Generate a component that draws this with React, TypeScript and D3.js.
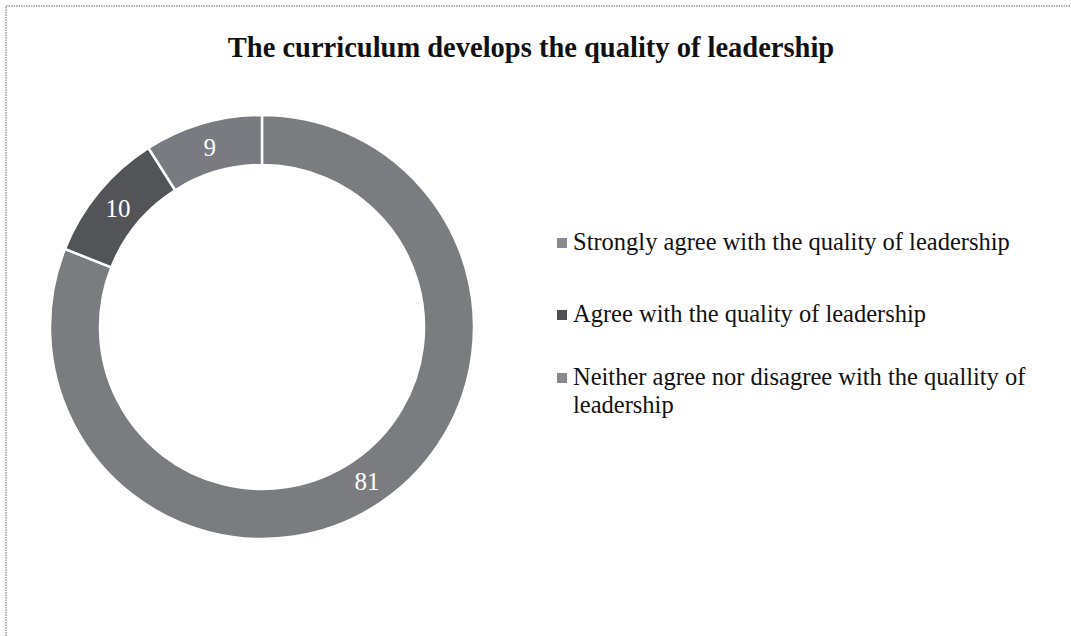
import React from 'react';
import * as d3 from 'd3';

const title = 'The curriculum develops the quality of leadership';
const categories = [
  'Strongly agree with the quality of leadership',
  'Agree with the quality of leadership',
  'Neither agree nor disagree with the quality of leadership',
];
const legendLines = [
  ['Strongly agree with the quality of leadership'],
  ['Agree with the quality of leadership'],
  ['Neither agree nor disagree with the quallity of', 'leadership'],
];
const values = [81, 10, 9];
const colors = ['#7b7c80', '#535458', '#7a7b80'];
const markerColors = ['#8a8a8e', '#4f4f53', '#8a8a8e'];

const W = 1071;
const H = 636;
const cx = 262;
const cy = 327;
const outerR = 212;
const innerR = 162;

export default function App() {
  const pie = d3.pie<number>().sort(null).value(d => d);
  const arcs = pie(values);
  const arc = d3.arc<d3.PieArcDatum<number>>().innerRadius(innerR).outerRadius(outerR);

  // baselines of the first line of each legend entry
  const legendY = d3.scaleOrdinal<number, number>().domain([0, 1, 2]).range([250, 322, 385]);

  return (
    <div style={{ position: 'absolute', left: 0, top: 0 }}>
      <svg width={W} height={H} style={{ display: 'block', background: '#fff' }}>
        <rect x={6} y={6} width={1100} height={700} fill="none" stroke="#999" strokeWidth={1.5} strokeDasharray="1.5 1" />
        <text x={531} y={57} textAnchor="middle" fontFamily="'Liberation Serif', 'Times New Roman', serif"
          fontWeight="bold" fontSize={28.5} fill="#111">{title}</text>
        <g transform={`translate(${cx},${cy})`}>
          {arcs.map((a, i) => (
            <path key={categories[i]} d={arc(a) || ''} fill={colors[i]} stroke="#fff" strokeWidth={2.5} />
          ))}
          {arcs.map((a, i) => {
            const [x, y] = arc.centroid(a);
            return (
              <text key={'l' + i} x={x} y={y} dy="0.35em" textAnchor="middle" fill="#fff"
                fontFamily="'Liberation Serif', 'Times New Roman', serif" fontSize={25}>{values[i]}</text>
            );
          })}
        </g>
        {legendLines.map((lines, i) => (
          <g key={'lg' + i} transform={`translate(557,${legendY(i)})`}>
            <rect x={0} y={-12} width={10} height={10} fill={markerColors[i]} />
            <text fontFamily="'Liberation Serif', 'Times New Roman', serif" fontSize={24.5} fill="#111">
              {lines.map((l, j) => (
                <tspan key={j} x={16} y={j * 28}>{l}</tspan>
              ))}
            </text>
          </g>
        ))}
      </svg>
    </div>
  );
}
